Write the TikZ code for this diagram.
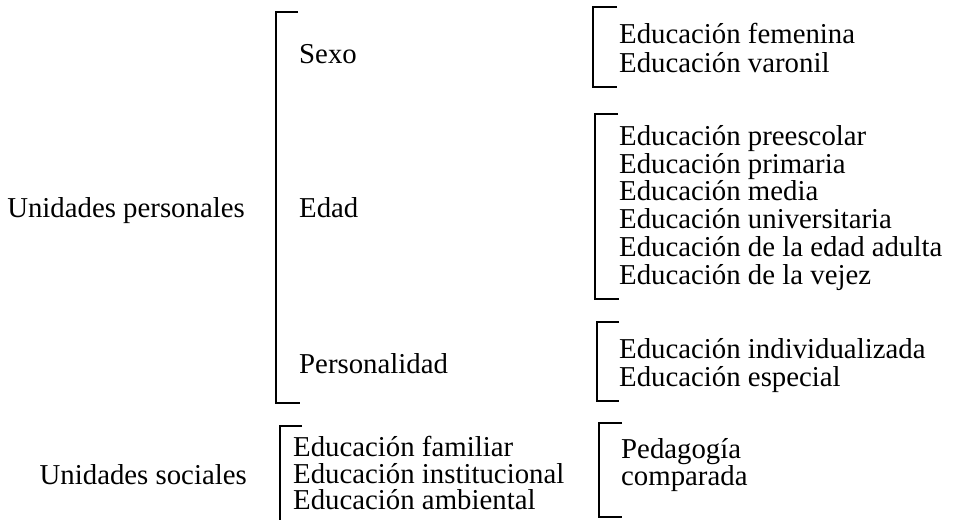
\documentclass[tikz,border=0pt]{standalone}
\usepackage{fontspec}
\setmainfont{Liberation Serif}
\begin{document}
\begin{tikzpicture}[x=1pt,y=-1pt,
  lbl/.style={anchor=base west,inner sep=0pt,font=\fontsize{28.8}{30}\selectfont},
  lblr/.style={anchor=base east,inner sep=0pt,font=\fontsize{28.8}{30}\selectfont},
  brk/.style={line width=1.8pt,line cap=butt,line join=miter}]
\useasboundingbox (0,0) rectangle (954,520);
% left labels
\node[lblr] (up) at (245,217) {Unidades personales};
\node[lblr] (us) at (247,484) {Unidades sociales};
% big bracket
\draw[brk] (298,12) -- (276,12) -- (276,403) -- (300,403);
\node[lbl] (sexo) at (299,63) {Sexo};
\node[lbl] (edad) at (299,217) {Edad};
\node[lbl] (pers) at (299,373) {Personalidad};
% sexo bracket
\draw[brk] (617,7) -- (593,7) -- (593,87) -- (617,87);
\node[lbl] (s1) at (619,43) {Educación femenina};
\node[lbl] (s2) at (619,72) {Educación varonil};
% edad bracket
\draw[brk] (618,114) -- (595,114) -- (595,299) -- (619,299);
\node[lbl] (e1) at (619,145) {Educación preescolar};
\node[lbl] (e2) at (619,173) {Educación primaria};
\node[lbl] (e3) at (619,200) {Educación media};
\node[lbl] (e4) at (619,228) {Educación universitaria};
\node[lbl] (e5) at (619,256) {Educación de la edad adulta};
\node[lbl] (e6) at (619,284) {Educación de la vejez};
% personalidad bracket
\draw[brk] (619,322) -- (597,322) -- (597,401) -- (619,401);
\node[lbl] (p1) at (619,358) {Educación individualizada};
\node[lbl] (p2) at (619,386) {Educación especial};
% sociales bracket
\draw[brk] (302,426) -- (280,426) -- (280,520);
\node[lbl] (f1) at (293,456) {Educación familiar};
\node[lbl] (f2) at (293,483) {Educación institucional};
\node[lbl] (f3) at (293,509) {Educación ambiental};
% pedagogia bracket
\draw[brk] (622,423) -- (599,423) -- (599,517) -- (622,517);
\node[lbl] (g1) at (621,458) {Pedagogía};
\node[lbl] (g2) at (621,485) {comparada};
\end{tikzpicture}
\end{document}
